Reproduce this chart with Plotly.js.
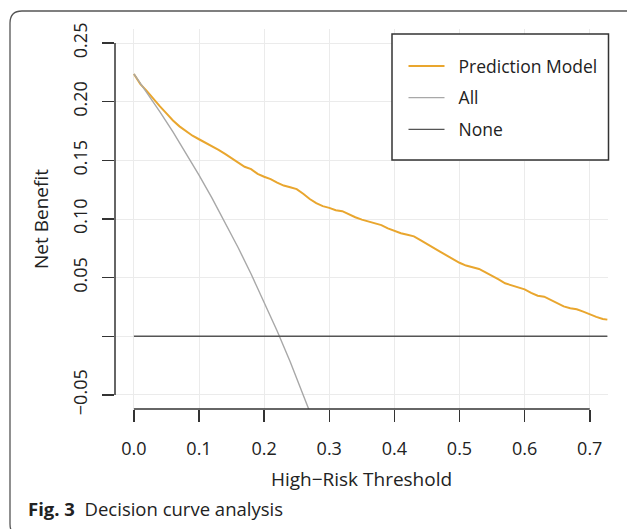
<!DOCTYPE html>
<html>
<head>
<meta charset="utf-8">
<script src="https://cdn.plot.ly/plotly-3.0.1.min.js"></script>
<style>html,body{margin:0;padding:0;background:#fff;}#chart{width:627px;height:529px;}</style>
</head>
<body>
<div id="chart"></div>
<script>
// Prediction model net benefit
const modelThreshold = [0.00,0.01,0.02,0.03,0.04,0.05,0.06,0.07,0.08,0.09,0.10,0.11,0.12,0.13,0.14,0.15,0.16,0.17,0.18,0.19,0.20,0.21,0.22,0.23,0.24,0.25,0.26,0.27,0.28,0.29,0.30,0.31,0.32,0.33,0.34,0.35,0.36,0.37,0.38,0.39,0.40,0.41,0.42,0.43,0.44,0.45,0.46,0.47,0.48,0.49,0.50,0.51,0.52,0.53,0.54,0.55,0.56,0.57,0.58,0.59,0.60,0.61,0.62,0.63,0.64,0.65,0.66,0.67,0.68,0.69,0.70,0.71,0.72,0.727];
const modelBenefit = [0.2237,0.215,0.209,0.202,0.196,0.190,0.184,0.179,0.175,0.171,0.168,0.165,0.1625,0.159,0.1555,0.152,0.148,0.1445,0.1425,0.1385,0.136,0.134,0.131,0.1285,0.127,0.1255,0.1215,0.117,0.1135,0.111,0.1095,0.1075,0.1067,0.104,0.1015,0.0995,0.0978,0.0965,0.0948,0.092,0.0898,0.0878,0.0865,0.0852,0.082,0.0785,0.0752,0.0722,0.069,0.0658,0.0627,0.0603,0.059,0.0574,0.0545,0.0518,0.0485,0.0452,0.0435,0.042,0.040,0.037,0.0346,0.0338,0.031,0.028,0.0255,0.0239,0.0230,0.021,0.0185,0.0165,0.0148,0.0142];
// Treat-all net benefit
const allThreshold = [0.00,0.02,0.04,0.06,0.08,0.10,0.12,0.14,0.16,0.18,0.20,0.22,0.24,0.26,0.28];
const allBenefit = [0.2237,0.2079,0.1913,0.1742,0.1562,0.1374,0.1178,0.0972,0.0757,0.0531,0.0294,0.0045,-0.0217,-0.0493,-0.0785];
// Treat-none net benefit
const noneThreshold = [0.00,0.727];
const noneBenefit = [0,0];
// Series names
const seriesNames = ["Prediction Model","All","None"];
// Axis ticks
const xTicks = [0,0.1,0.2,0.3,0.4,0.5,0.6,0.7];
const xTickLabels = ["0.0","0.1","0.2","0.3","0.4","0.5","0.6","0.7"];
const yTicks = [-0.05,0,0.05,0.10,0.15,0.20,0.25];
const yTickLabels = ["\u22120.05","","0.05","0.10","0.15","0.20","0.25"];

const FONT = "Open Sans, Noto Sans, sans-serif";
const pad = "\u00a0\u00a0";

const traces = [
  {x: modelThreshold, y: modelBenefit, type: "scatter", mode: "lines", name: pad + seriesNames[0],
   line: {color: "#E9A62E", width: 2}, legendgroup: "a"},
  {x: allThreshold, y: allBenefit, type: "scatter", mode: "lines", name: pad + seriesNames[1],
   line: {color: "#A8A8A8", width: 1.4}, legendgroup: "b"},
  {x: noneThreshold, y: noneBenefit, type: "scatter", mode: "lines", name: pad + seriesNames[2],
   line: {color: "#555555", width: 1.4}, legendgroup: "c"}
];

// frame geometry (pixels -> paper)
const L = 115, R = 19, T = 29, B = 120, W = 627, H = 529;
const pw = W - L - R, ph = H - T - B;
const px = v => (v - L) / pw;
const py = v => (H - B - v) / ph;
const X0 = px(10), X1 = px(645), Y1 = py(11), Y0 = py(536);
const rx = 12 / pw, ry = 12 / ph;
const framePath = `M${X0+rx},${Y1} L${X1-rx},${Y1} Q${X1},${Y1} ${X1},${Y1-ry} L${X1},${Y0+ry} Q${X1},${Y0} ${X1-rx},${Y0} L${X0+rx},${Y0} Q${X0},${Y0} ${X0},${Y0+ry} L${X0},${Y1-ry} Q${X0},${Y1} ${X0+rx},${Y1} Z`;

const layout = {
  width: W, height: H,
  margin: {l: L, r: R, t: T, b: B},
  paper_bgcolor: "#ffffff", plot_bgcolor: "#ffffff",
  font: {family: FONT, color: "#222222", size: 17.5},
  showlegend: true,
  legend: {
    x: px(403.5), xanchor: "left", y: py(48), yanchor: "top",
    bgcolor: "rgba(0,0,0,0)", borderwidth: 0,
    font: {family: FONT, size: 17.5, color: "#222222"},
    traceorder: "grouped", tracegroupgap: 6, itemwidth: 36
  },
  xaxis: {
    range: [-0.029, 0.728],
    tickvals: xTicks, ticktext: xTickLabels,
    ticks: "outside", ticklen: 12, tickwidth: 1.5, tickcolor: "#333333",
    ticklabelstandoff: 11,
    showline: false, zeroline: false,
    showgrid: true, gridcolor: "#ebebeb", gridwidth: 1,
    tickfont: {family: FONT, size: 18, color: "#222222"},
    title: {text: "High\u2212Risk Threshold", font: {family: FONT, size: 19, color: "#222222"}, standoff: 14}
  },
  yaxis: {
    range: [-0.062, 0.262],
    tickvals: yTicks, ticktext: yTickLabels, tickangle: -90,
    ticks: "outside", ticklen: 12, tickwidth: 1.5, tickcolor: "#333333",
    ticklabelstandoff: 8,
    showline: false, zeroline: false,
    showgrid: true, gridcolor: "#ebebeb", gridwidth: 1,
    tickfont: {family: FONT, size: 18, color: "#222222"},
    title: {text: "Net Benefit", font: {family: FONT, size: 19, color: "#222222"}, standoff: 14}
  },
  shapes: [
    {type: "rect", xref: "paper", yref: "paper", x0: px(392), x1: px(608.5), y0: py(160), y1: py(34),
     line: {color: "#333333", width: 1.5}, fillcolor: "#ffffff", layer: "above"},
    {type: "line", xref: "paper", yref: "y", x0: 0, x1: 0, y0: -0.05, y1: 0.25,
     line: {color: "#333333", width: 1.5}},
    {type: "line", xref: "x", yref: "paper", x0: 0, x1: 0.7, y0: 0, y1: 0,
     line: {color: "#333333", width: 1.5}},
    {type: "path", xref: "paper", yref: "paper", path: framePath,
     line: {color: "#555555", width: 1.3}, fillcolor: "rgba(0,0,0,0)"}
  ],
  annotations: [
    {xref: "paper", yref: "paper", x: px(26), y: py(508.5), xanchor: "left", yanchor: "middle",
     showarrow: false, text: "<b>Fig. 3</b>  Decision curve analysis",
     font: {family: FONT, size: 18.5, color: "#222222"}}
  ]
};

Plotly.newPlot("chart", traces, layout, {displayModeBar: false, staticPlot: true});
</script>
</body>
</html>
